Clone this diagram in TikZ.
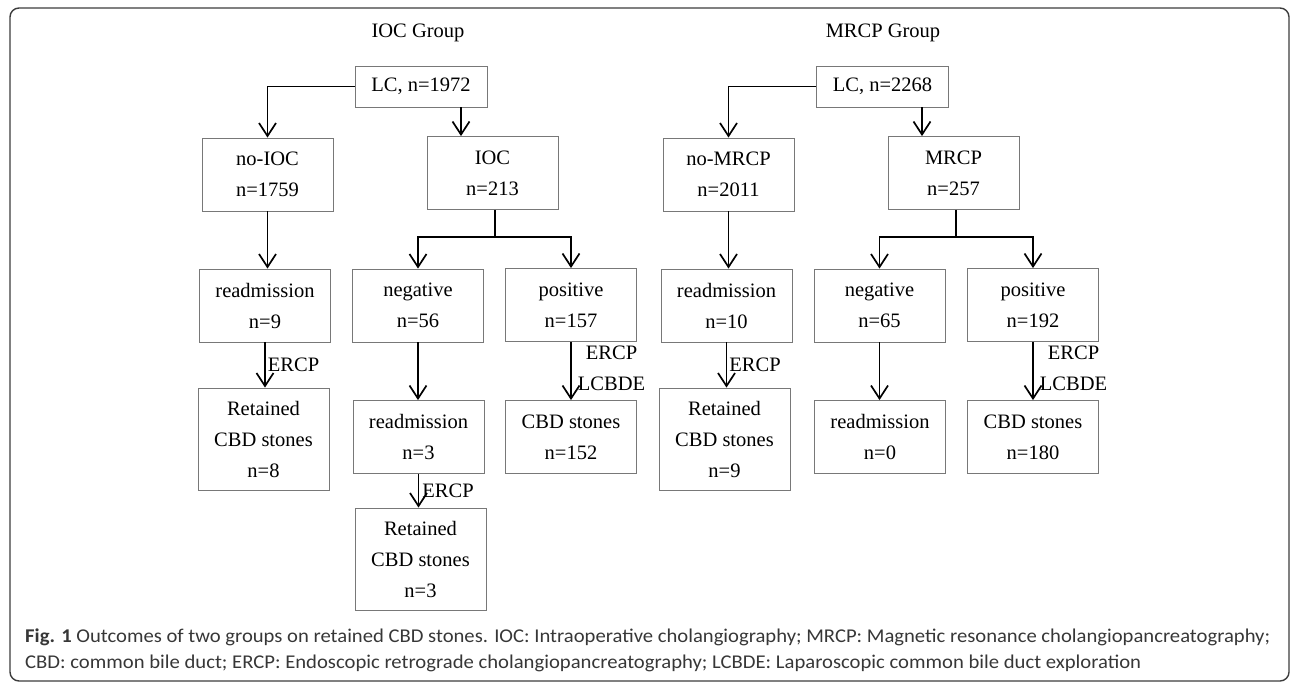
\documentclass[tikz,border=0pt]{standalone}
\usepackage{fontspec}
\usepackage{graphicx}
\setmainfont{Liberation Serif}
\newfontfamily\capfont{Carlito}
\usetikzlibrary{arrows.meta}
\definecolor{boxgray}{RGB}{120,120,120}
\definecolor{capgray}{RGB}{55,55,55}
\definecolor{framegray}{RGB}{60,60,60}
\tikzset{
  box/.style={draw=boxgray, line width=0.9pt, align=center, inner sep=0pt,
    font=\fontsize{20.5}{31}\selectfont},
  b2/.style={box, minimum width=131pt, minimum height=73pt},
  b3/.style={box, minimum width=131pt, minimum height=102pt},
  conn/.style={line width=1.9pt, black},
  arr/.style={conn, -{Straight Barb[length=13pt,width=17pt,line width=1.7pt]}},
  lab/.style={font=\fontsize{20.5}{24}\selectfont, inner sep=0pt},
  ttl/.style={font=\fontsize{20.5}{24}\selectfont, inner sep=0pt},
}
\begin{document}
\begin{tikzpicture}[x=1pt,y=-1pt]
\useasboundingbox (0,0) rectangle (1290,681);
\draw[framegray, line width=1.4pt, rounded corners=9pt] (10,8) rectangle (1289,681);

% ---------- IOC group ----------
\node[ttl] (t1) at (418,33) {IOC Group};
\node[box, minimum width=132pt, minimum height=41pt] (lc1) at (421,86.5) {LC, n=1972};
\node[b2] (noioc) at (267.5,174.5) {no-IOC\\n=1759};
\node[b2] (ioc) at (492.5,173) {IOC\\n=213};
\node[b2] (read1) at (265,305.5) {readmission\\n=9};
\node[b2] (neg1) at (418,305.5) {negative\\n=56};
\node[b2] (pos1) at (571,305) {positive\\n=157};
\node[b3] (ret1) at (263.5,439) {Retained\\CBD stones\\n=8};
\node[b2] (read2) at (418.5,437) {readmission\\n=3};
\node[b3] (ret2) at (420.5,559) {Retained\\CBD stones\\n=3};
\node[b2] (cbd1) at (571,437) {CBD stones\\n=152};

\coordinate (x1) at (461,0);
\coordinate (br1) at (495,237);
\draw[arr] (lc1.west) -| (noioc.north);
\draw[arr] (lc1.south -| x1) -- (ioc.north -| x1);
\draw[conn] (ioc.south -| br1) -- (br1);
\draw[arr] (br1) -| (neg1.north);
\draw[arr] (br1) -| (pos1.north);
\draw[arr] (noioc.south) -- (noioc.south |- read1.north);
\draw[arr] (read1.south) -- (read1.south |- ret1.north)
  node[lab, midway, right=2pt] {ERCP};
\draw[arr] (neg1.south) -- (neg1.south |- read2.north);
\draw[arr] (read2.south) -- (read2.south |- ret2.north)
  node[lab, midway, right=3pt] {ERCP};
\draw[arr] (pos1.south) -- (pos1.south |- cbd1.north)
  node[lab, pos=0.19, right=14pt] {ERCP}
  node[lab, pos=0.72, right=6pt] {LCBDE};

% ---------- MRCP group ----------
\node[ttl] (t2) at (883,33) {MRCP Group};
\node[box, minimum width=132pt, minimum height=41pt] (lc2) at (882.5,86.5) {LC, n=2268};
\node[b2] (nomrcp) at (728.5,174.5) {no-MRCP\\n=2011};
\node[b2] (mrcp) at (953.5,173) {MRCP\\n=257};
\node[b2] (read3) at (726.5,305.5) {readmission\\n=10};
\node[b2] (neg2) at (879.5,305.5) {negative\\n=65};
\node[b2] (pos2) at (1033,305) {positive\\n=192};
\node[b3] (ret3) at (724.5,439) {Retained\\CBD stones\\n=9};
\node[b2] (read4) at (880,437) {readmission\\n=0};
\node[b2] (cbd2) at (1033,437) {CBD stones\\n=180};

\coordinate (x2) at (922,0);
\coordinate (br2) at (956,237);
\draw[arr] (lc2.west) -| (nomrcp.north);
\draw[arr] (lc2.south -| x2) -- (mrcp.north -| x2);
\draw[conn] (mrcp.south -| br2) -- (br2);
\draw[arr] (br2) -| (neg2.north);
\draw[arr] (br2) -| (pos2.north);
\draw[arr] (nomrcp.south) -- (nomrcp.south |- read3.north);
\draw[arr] (read3.south) -- (read3.south |- ret3.north)
  node[lab, midway, right=2pt] {ERCP};
\draw[arr] (neg2.south) -- (neg2.south |- read4.north);
\draw[arr] (pos2.south) -- (pos2.south |- cbd2.north)
  node[lab, pos=0.19, right=14pt] {ERCP}
  node[lab, pos=0.72, right=6pt] {LCBDE};

% ---------- caption ----------
\node[anchor=west, inner sep=0pt, text=capgray] (cap1) at (25,637)
  {\resizebox{1245pt}{\height}{\capfont\fontsize{19.5}{22}\selectfont\textbf{Fig. 1} Outcomes of two groups on retained CBD stones. IOC: Intraoperative cholangiography; MRCP: Magnetic resonance cholangiopancreatography;}};
\node[anchor=west, inner sep=0pt, text=capgray] (cap2) at (25,663)
  {\resizebox{1116pt}{\height}{\capfont\fontsize{19.5}{22}\selectfont CBD: common bile duct; ERCP: Endoscopic retrograde cholangiopancreatography; LCBDE: Laparoscopic common bile duct exploration}};
\end{tikzpicture}
\end{document}
